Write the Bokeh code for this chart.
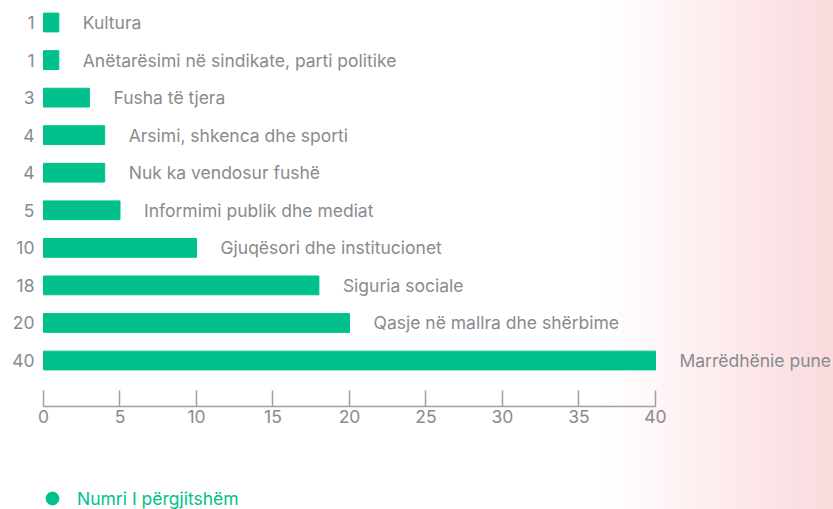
from bokeh.plotting import figure
from bokeh.models import Range1d, FixedTicker, ColumnDataSource, Legend, LegendItem
from bokeh.core.properties import value
from bokeh.embed import file_html
from bokeh.resources import INLINE

categories = [
    "Kultura",
    "Anëtarësimi në sindikate, parti politike",
    "Fusha të tjera",
    "Arsimi, shkenca dhe sporti",
    "Nuk ka vendosur fushë",
    "Informimi publik dhe mediat",
    "Gjuqësori dhe institucionet",
    "Siguria sociale",
    "Qasje në mallra dhe shërbime",
    "Marrëdhënie pune",
]
values = [1, 1, 3, 4, 4, 5, 10, 18, 20, 40]
x_ticks = [0, 5, 10, 15, 20, 25, 30, 35, 40]
series_name = "Numri I përgjitshëm"

GREEN = "#00c08b"
GREY = "#8a8a8e"
FONT = "Inter"
FS = "17.5px"

n = len(values)
ys = [n - 1 - i for i in range(n)]
src = ColumnDataSource(dict(y=ys, v=values, cat=categories))

p = figure(width=833, height=509, output_backend="svg", toolbar_location=None,
           x_range=Range1d(-0.4575, 51.635), y_range=Range1d(-3.967, 9.586),
           min_border_left=36, min_border_right=0, min_border_top=0,
           min_border_bottom=0)
p.background_fill_color = None
p.border_fill_color = None
p.outline_line_color = None
p.styles = {"background": "linear-gradient(90deg, #ffffff 0px, #ffffff 600px, #fadadd 833px)"}

p.hbar(y="y", right="v", left=0, height=0.5, color=GREEN, source=src)
p.text(x="v", y="y", text="cat", x_offset=24, text_baseline="middle",
       text_align="left", text_color=GREY, text_font=value(FONT),
       text_font_size=FS, source=src)

p.xgrid.visible = False
p.ygrid.visible = False

xa = p.xaxis[0]
xa.fixed_location = -1.225
xa.ticker = FixedTicker(ticks=x_ticks)
xa.bounds = (0, 40)
xa.axis_line_color = "#a0a0a0"
xa.axis_line_width = 1.5
xa.major_tick_line_color = "#a0a0a0"
xa.major_tick_line_width = 1.5
xa.major_tick_in = 16
xa.major_tick_out = 0
xa.minor_tick_line_color = None
xa.major_label_text_color = GREY
xa.major_label_text_font = FONT
xa.major_label_text_font_size = FS
xa.major_label_standoff = 3

ya = p.yaxis[0]
ya.ticker = FixedTicker(ticks=ys)
ya.major_label_overrides = {y: str(v) for y, v in zip(ys, values)}
ya.axis_line_color = None
ya.major_tick_line_color = None
ya.minor_tick_line_color = None
ya.major_tick_in = 0
ya.major_tick_out = 0
ya.minor_tick_in = 0
ya.minor_tick_out = 0
ya.major_label_text_color = GREY
ya.major_label_text_font = FONT
ya.major_label_text_font_size = FS
ya.major_label_text_align = "center"
ya.major_label_standoff = 2

# legend swatch only: one row with no position, so nothing is drawn in the plot
dot = p.scatter(x=[float("nan")], y=[float("nan")], size=13, color=GREEN, marker="circle")
legend = Legend(items=[LegendItem(label=series_name, renderers=[dot])],
                location=(0, -5), padding=0, margin=0, spacing=0,
                glyph_width=32, glyph_height=32, label_standoff=9,
                label_text_color=GREEN, label_text_font=FONT,
                label_text_font_size=FS, background_fill_alpha=0,
                border_line_color=None)
p.add_layout(legend, "center")

open("out.html", "w").write(file_html(p, INLINE))
